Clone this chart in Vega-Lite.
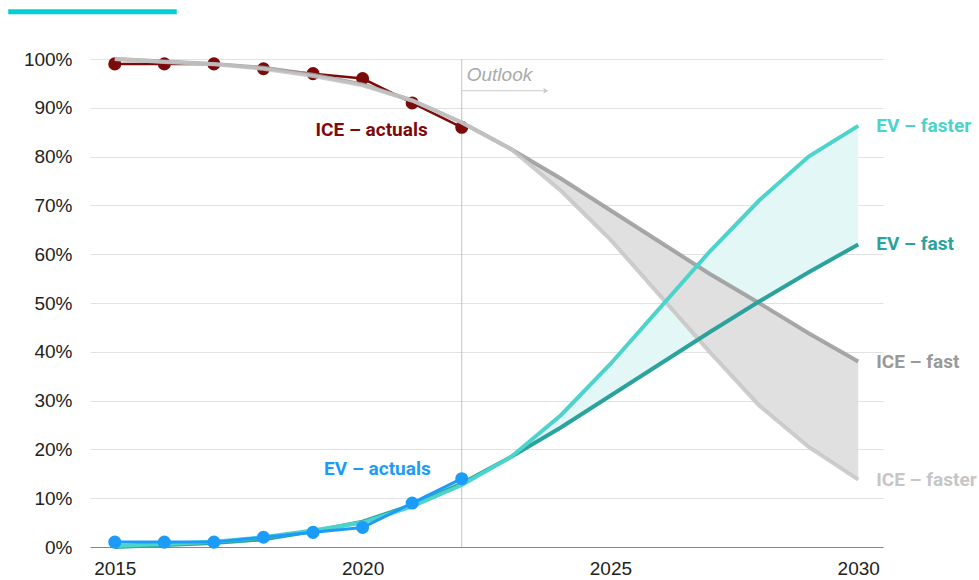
{
  "$schema": "https://vega.github.io/schema/vega-lite/v6.json",
  "width": 793,
  "height": 488,
  "autosize": "none",
  "padding": {"left": 90, "top": 59, "right": 96, "bottom": 33},
  "background": "white",
  "config": {
    "view": {"stroke": null},
    "font": "Roboto",
    "axis": {"labelFont": "Liberation Sans", "labelFontSize": 19, "labelColor": "#222222", "ticks": false, "title": null}
  },
  "datasets": {
    "d": [
      {"year": 2015, "series": "ICE – actuals", "value": 99},
      {"year": 2016, "series": "ICE – actuals", "value": 99},
      {"year": 2017, "series": "ICE – actuals", "value": 99},
      {"year": 2018, "series": "ICE – actuals", "value": 98},
      {"year": 2019, "series": "ICE – actuals", "value": 97},
      {"year": 2020, "series": "ICE – actuals", "value": 96},
      {"year": 2021, "series": "ICE – actuals", "value": 91},
      {"year": 2022, "series": "ICE – actuals", "value": 86},
      {"year": 2015, "series": "EV – actuals", "value": 1},
      {"year": 2016, "series": "EV – actuals", "value": 1},
      {"year": 2017, "series": "EV – actuals", "value": 1},
      {"year": 2018, "series": "EV – actuals", "value": 2},
      {"year": 2019, "series": "EV – actuals", "value": 3},
      {"year": 2020, "series": "EV – actuals", "value": 4},
      {"year": 2021, "series": "EV – actuals", "value": 9},
      {"year": 2022, "series": "EV – actuals", "value": 14},
      {"year": 2015, "series": "ICE – fast", "value": 100},
      {"year": 2016, "series": "ICE – fast", "value": 99.5},
      {"year": 2017, "series": "ICE – fast", "value": 99},
      {"year": 2018, "series": "ICE – fast", "value": 98.2},
      {"year": 2019, "series": "ICE – fast", "value": 96.8},
      {"year": 2020, "series": "ICE – fast", "value": 94.8},
      {"year": 2021, "series": "ICE – fast", "value": 91.5},
      {"year": 2022, "series": "ICE – fast", "value": 87},
      {"year": 2023, "series": "ICE – fast", "value": 81.5},
      {"year": 2024, "series": "ICE – fast", "value": 75.5},
      {"year": 2025, "series": "ICE – fast", "value": 69},
      {"year": 2026, "series": "ICE – fast", "value": 62.5},
      {"year": 2027, "series": "ICE – fast", "value": 56},
      {"year": 2028, "series": "ICE – fast", "value": 50},
      {"year": 2029, "series": "ICE – fast", "value": 43.8},
      {"year": 2030, "series": "ICE – fast", "value": 38},
      {"year": 2015, "series": "ICE – faster", "value": 100},
      {"year": 2016, "series": "ICE – faster", "value": 99.4},
      {"year": 2017, "series": "ICE – faster", "value": 98.9},
      {"year": 2018, "series": "ICE – faster", "value": 98},
      {"year": 2019, "series": "ICE – faster", "value": 96.5},
      {"year": 2020, "series": "ICE – faster", "value": 94.6},
      {"year": 2021, "series": "ICE – faster", "value": 91.5},
      {"year": 2022, "series": "ICE – faster", "value": 87},
      {"year": 2023, "series": "ICE – faster", "value": 81.5},
      {"year": 2024, "series": "ICE – faster", "value": 73},
      {"year": 2025, "series": "ICE – faster", "value": 63},
      {"year": 2026, "series": "ICE – faster", "value": 51.5},
      {"year": 2027, "series": "ICE – faster", "value": 40},
      {"year": 2028, "series": "ICE – faster", "value": 29},
      {"year": 2029, "series": "ICE – faster", "value": 20.5},
      {"year": 2030, "series": "ICE – faster", "value": 13.8},
      {"year": 2015, "series": "EV – fast", "value": 0},
      {"year": 2016, "series": "EV – fast", "value": 0.4},
      {"year": 2017, "series": "EV – fast", "value": 0.8},
      {"year": 2018, "series": "EV – fast", "value": 1.6},
      {"year": 2019, "series": "EV – fast", "value": 3.2},
      {"year": 2020, "series": "EV – fast", "value": 5.2},
      {"year": 2021, "series": "EV – fast", "value": 8.6},
      {"year": 2022, "series": "EV – fast", "value": 13},
      {"year": 2023, "series": "EV – fast", "value": 18.5},
      {"year": 2024, "series": "EV – fast", "value": 24.5},
      {"year": 2025, "series": "EV – fast", "value": 31},
      {"year": 2026, "series": "EV – fast", "value": 37.5},
      {"year": 2027, "series": "EV – fast", "value": 44},
      {"year": 2028, "series": "EV – fast", "value": 50.3},
      {"year": 2029, "series": "EV – fast", "value": 56.3},
      {"year": 2030, "series": "EV – fast", "value": 62},
      {"year": 2015, "series": "EV – faster", "value": 0.2},
      {"year": 2016, "series": "EV – faster", "value": 0.6},
      {"year": 2017, "series": "EV – faster", "value": 1.1},
      {"year": 2018, "series": "EV – faster", "value": 2},
      {"year": 2019, "series": "EV – faster", "value": 3.4},
      {"year": 2020, "series": "EV – faster", "value": 5},
      {"year": 2021, "series": "EV – faster", "value": 8.3},
      {"year": 2022, "series": "EV – faster", "value": 12.7},
      {"year": 2023, "series": "EV – faster", "value": 18.5},
      {"year": 2024, "series": "EV – faster", "value": 27},
      {"year": 2025, "series": "EV – faster", "value": 37.5},
      {"year": 2026, "series": "EV – faster", "value": 49},
      {"year": 2027, "series": "EV – faster", "value": 60.5},
      {"year": 2028, "series": "EV – faster", "value": 71},
      {"year": 2029, "series": "EV – faster", "value": 80},
      {"year": 2030, "series": "EV – faster", "value": 86.3}
    ]
  },
  "layer": [
    {
      "data": {"name": "d"},
      "transform": [
        {"filter": "datum.year >= 2022"},
        {"pivot": "series", "value": "value", "groupby": ["year"]}
      ],
      "mark": {"type": "area", "color": "#E3F7F7"},
      "encoding": {
        "x": {
          "field": "year", "type": "quantitative",
          "scale": {"domain": [2014.5, 2030.5], "nice": false, "zero": false},
          "axis": {"values": [2015, 2020, 2025, 2030], "format": "d", "grid": false, "domainColor": "#888888", "labelPadding": 12}
        },
        "y": {"field": "EV – fast", "type": "quantitative", "scale": {"domain": [0, 100], "nice": false},
          "axis": {"values": [0,10,20,30,40,50,60,70,80,90,100], "labelExpr": "datum.value + '%'", "domain": false, "gridColor": "#E2E2E2", "labelPadding": 18}},
        "y2": {"field": "EV – faster"}
      }
    },
    {
      "data": {"name": "d"},
      "transform": [
        {"filter": "datum.year >= 2022"},
        {"pivot": "series", "value": "value", "groupby": ["year"]}
      ],
      "mark": {"type": "area", "color": "#E0E0E0"},
      "encoding": {
        "x": {"field": "year", "type": "quantitative"},
        "y": {"field": "ICE – faster", "type": "quantitative"},
        "y2": {"field": "ICE – fast"}
      }
    },
    {
      "data": {"values": [{"k": 1}]},
      "mark": {"type": "rule", "color": "#C4C4C4", "strokeWidth": 1},
      "encoding": {"x": {"datum": 2022}, "y": {"datum": 0}, "y2": {"datum": 100}}
    },
    {
      "data": {"values": [{"k": 1}]},
      "mark": {"type": "rule", "color": "#CCCCCC", "strokeWidth": 1},
      "encoding": {"x": {"datum": 2022}, "x2": {"datum": 2023.65}, "y": {"datum": 93.5}}
    },
    {
      "data": {"values": [{"k": 1}]},
      "mark": {"type": "point", "shape": "triangle-right", "filled": true, "color": "#CCCCCC", "size": 30, "opacity": 1},
      "encoding": {"x": {"datum": 2023.7}, "y": {"datum": 93.5}}
    },
    {
      "data": {"values": [{"k": 1}]},
      "mark": {"type": "text", "text": "Outlook", "font": "Liberation Sans", "fontStyle": "italic", "fontWeight": "normal", "fontSize": 19, "color": "#AAAAAA", "align": "left", "baseline": "middle", "dx": 5},
      "encoding": {"x": {"datum": 2022}, "y": {"datum": 96.7}}
    },
    {
      "data": {"values": [{"k": 1}]},
      "mark": {"type": "rule", "color": "#00CFCF", "strokeWidth": 5, "clip": false},
      "encoding": {"x": {"datum": 2012.85}, "x2": {"datum": 2016.25}, "y": {"datum": 109.7}}
    },
    {
      "data": {"name": "d"},
      "transform": [{"filter": "datum.series === 'ICE – actuals'"}],
      "mark": {"type": "line", "strokeWidth": 2.5, "point": {"filled": true, "size": 170, "opacity": 1}},
      "encoding": {
        "x": {"field": "year", "type": "quantitative"},
        "y": {"field": "value", "type": "quantitative"},
        "color": {"field": "series", "type": "nominal", "legend": null,
          "scale": {"domain": ["ICE – actuals", "EV – actuals", "ICE – fast", "ICE – faster", "EV – fast", "EV – faster"],
                    "range": ["#7D0A0A", "#1C9CFA", "#999999", "#C6C6C6", "#2BA39C", "#4CD3CB"]}}
      }
    },
    {
      "data": {"name": "d"},
      "transform": [{"filter": "datum.series === 'ICE – fast' || datum.series === 'ICE – faster'"}],
      "mark": {"type": "line", "strokeWidth": 4, "opacity": 0.85},
      "encoding": {
        "x": {"field": "year", "type": "quantitative"},
        "y": {"field": "value", "type": "quantitative"},
        "color": {"field": "series", "type": "nominal"}
      }
    },
    {
      "data": {"name": "d"},
      "transform": [{"filter": "datum.series === 'EV – fast' || datum.series === 'EV – faster'"}],
      "mark": {"type": "line", "strokeWidth": 4},
      "encoding": {
        "x": {"field": "year", "type": "quantitative"},
        "y": {"field": "value", "type": "quantitative"},
        "color": {"field": "series", "type": "nominal"}
      }
    },
    {
      "data": {"name": "d"},
      "transform": [{"filter": "datum.series === 'EV – actuals'"}],
      "mark": {"type": "line", "strokeWidth": 3, "point": {"filled": true, "size": 170, "opacity": 1}},
      "encoding": {
        "x": {"field": "year", "type": "quantitative"},
        "y": {"field": "value", "type": "quantitative"},
        "color": {"field": "series", "type": "nominal"}
      }
    },
    {
      "data": {"name": "d"},
      "transform": [{"filter": "datum.year === 2030"}],
      "mark": {"type": "text", "align": "left", "baseline": "middle", "dx": 18, "fontSize": 19, "fontWeight": "bold"},
      "encoding": {
        "x": {"field": "year", "type": "quantitative"},
        "y": {"field": "value", "type": "quantitative"},
        "text": {"field": "series"},
        "color": {"field": "series", "type": "nominal"}
      }
    },
    {
      "data": {"name": "d"},
      "transform": [{"filter": "datum.year === 2022 && datum.series === 'ICE – actuals'"}],
      "mark": {"type": "text", "align": "right", "baseline": "middle", "dx": -34, "dy": 3, "fontSize": 19, "fontWeight": "bold"},
      "encoding": {
        "x": {"field": "year", "type": "quantitative"},
        "y": {"field": "value", "type": "quantitative"},
        "text": {"field": "series"},
        "color": {"field": "series", "type": "nominal"}
      }
    },
    {
      "data": {"name": "d"},
      "transform": [{"filter": "datum.year === 2022 && datum.series === 'EV – actuals'"}],
      "mark": {"type": "text", "align": "right", "baseline": "middle", "dx": -31, "dy": -10, "fontSize": 19, "fontWeight": "bold"},
      "encoding": {
        "x": {"field": "year", "type": "quantitative"},
        "y": {"field": "value", "type": "quantitative"},
        "text": {"field": "series"},
        "color": {"field": "series", "type": "nominal"}
      }
    }
  ]
}
